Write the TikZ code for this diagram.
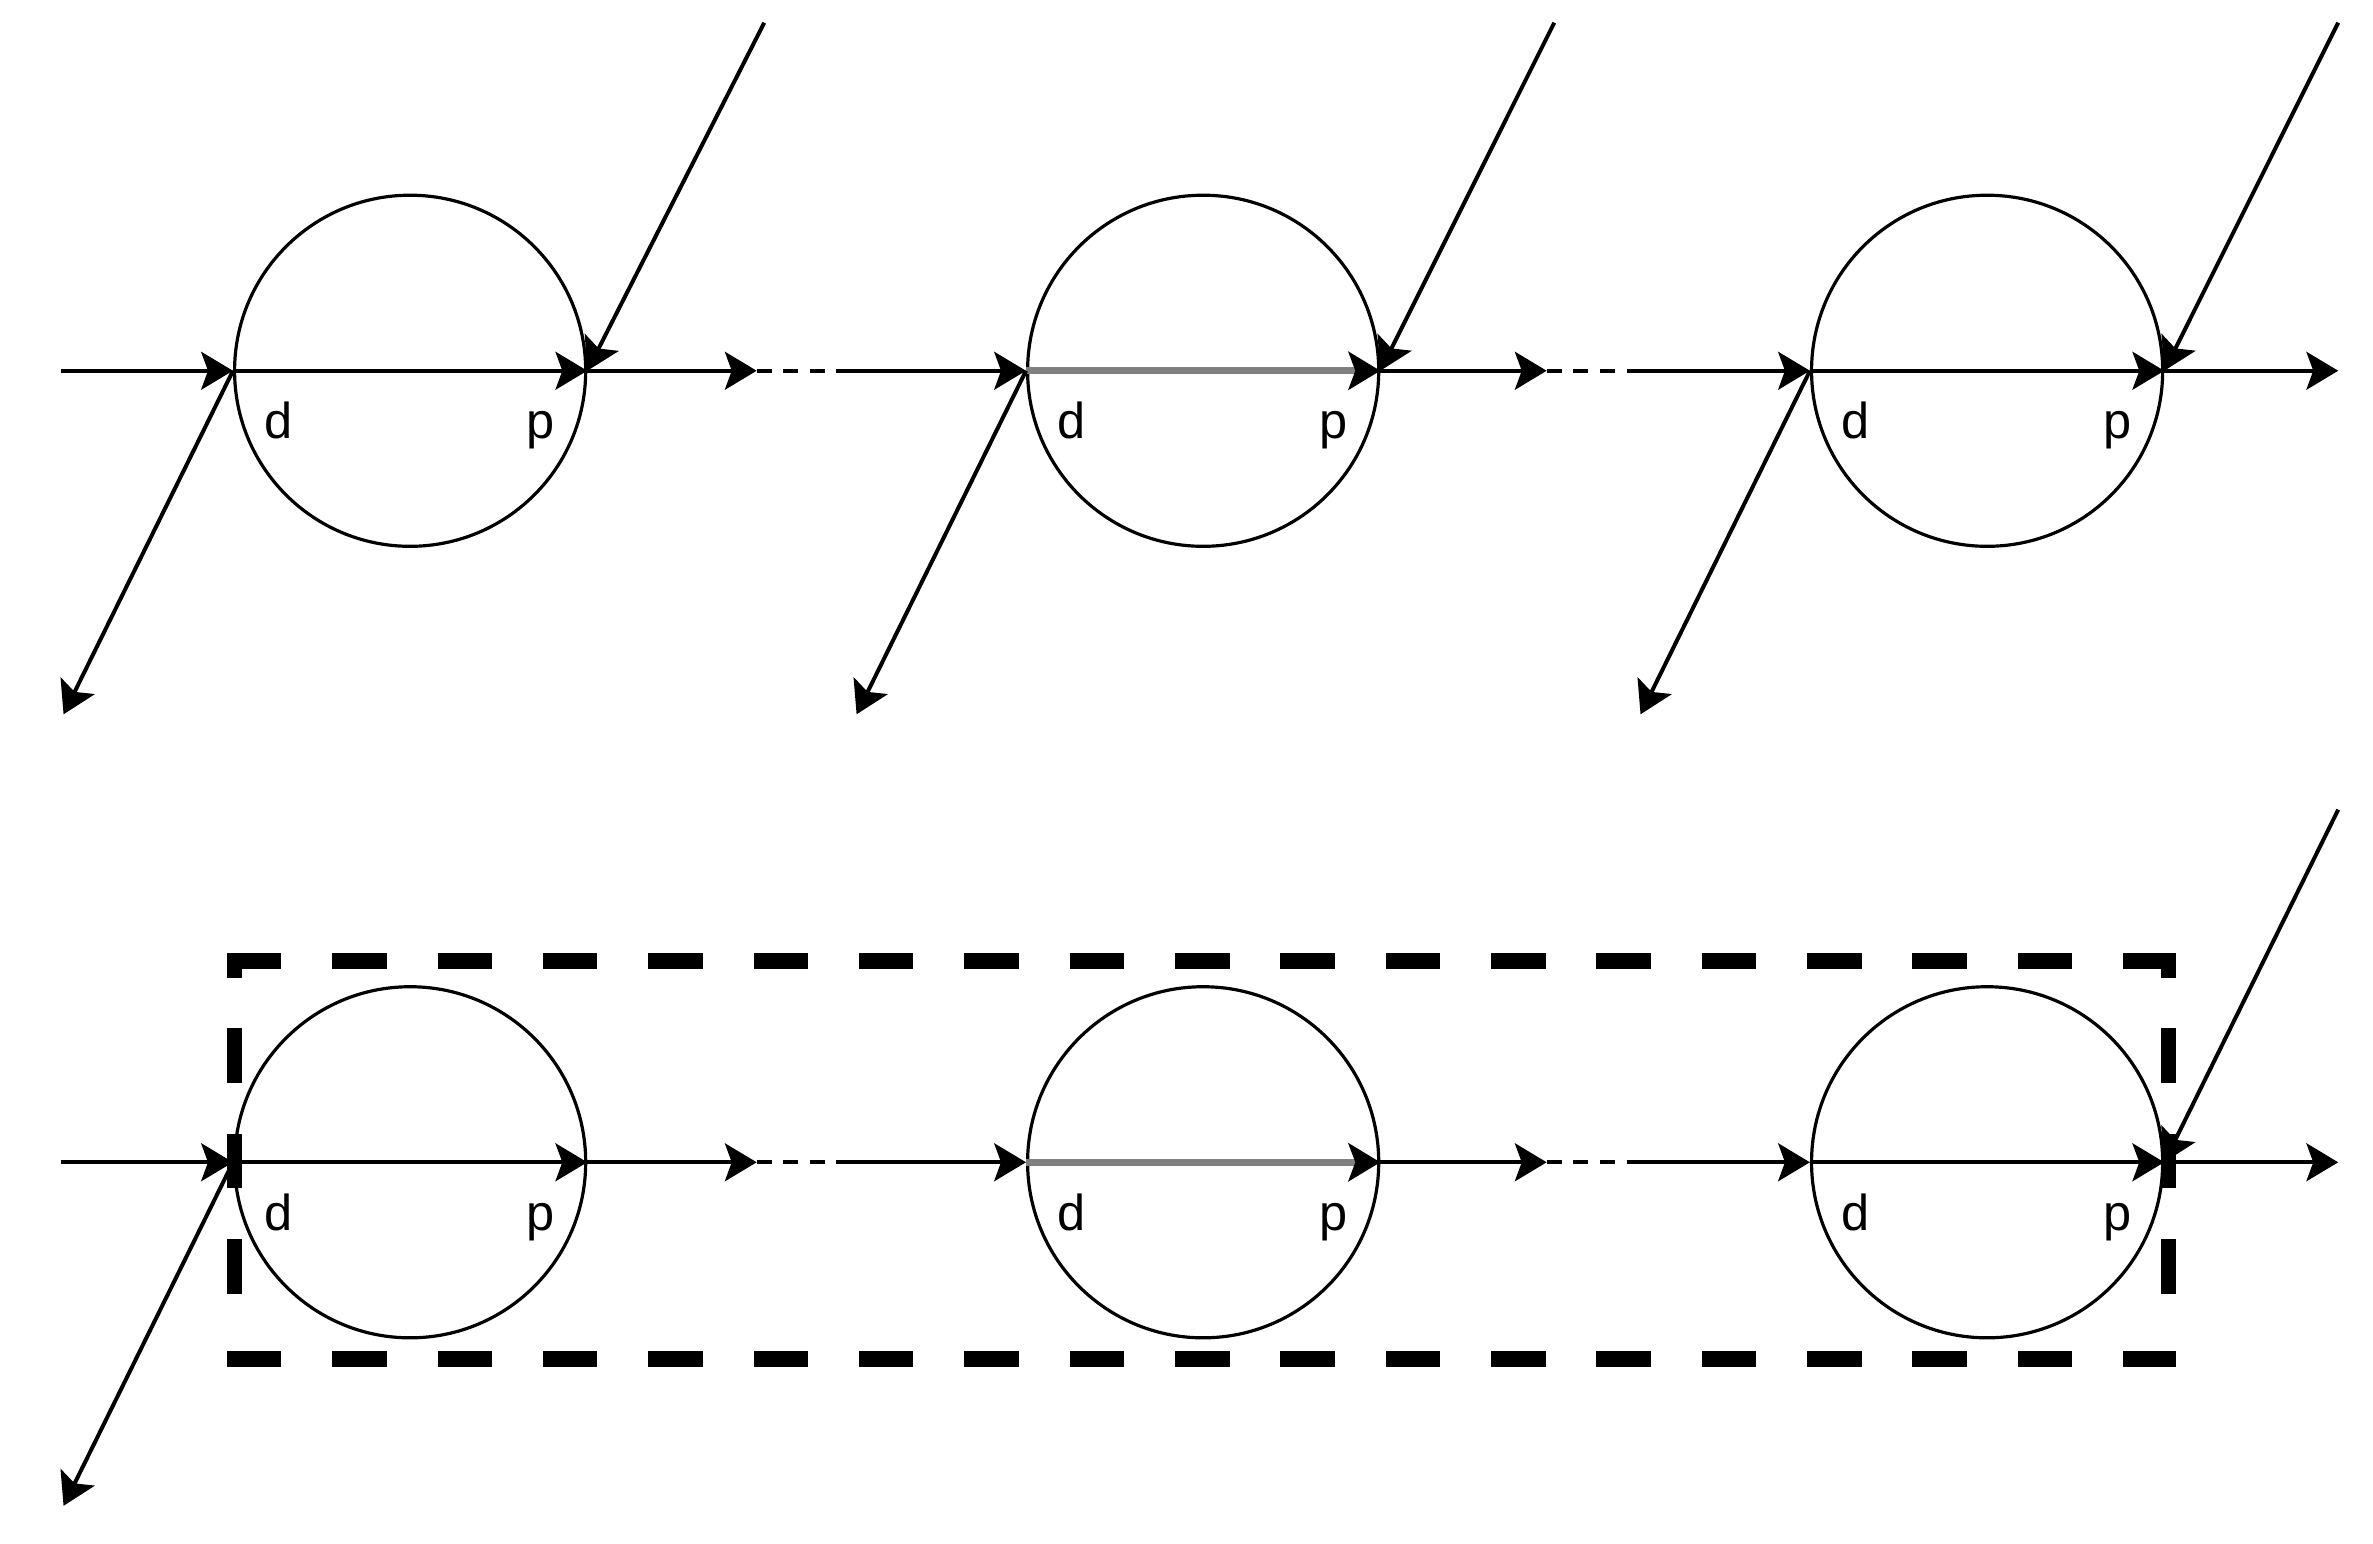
\documentclass[tikz,border=0pt]{standalone}
\usepackage{fontspec}
\setsansfont{Liberation Sans}
\usetikzlibrary{arrows.meta}
\tikzset{
  cell/.style={draw, circle, minimum size=2.32cm, inner sep=0pt, line width=0.6pt},
  link/.style={line width=0.75pt, -{Stealth[length=2.1mm,width=2.5mm,inset=0.45mm,color=black]}},
  hotlink/.style={link, draw=gray, line width=1.4pt},
  gapline/.style={line width=0.75pt, dash pattern=on 2.8pt off 2.2pt},
  lbl/.style={font=\sffamily\fontsize{9.5}{11}\selectfont, inner sep=0pt, anchor=base},
  groupbox/.style={line width=0.1cm, line cap=rect, dash pattern=on 0.26cm off 0.436cm},
  groupside/.style={groupbox, dash phase=0.2cm}
}
\begin{document}
\begin{tikzpicture}
\useasboundingbox (0,0) rectangle (15.68,-10.2);
\node[cell] (c11) at (2.71,-2.45) {};
\node[cell] (c12) at (7.95,-2.45) {};
\node[cell] (c13) at (13.13,-2.45) {};
\node[cell] (c21) at (2.71,-7.68) {};
\node[cell] (c22) at (7.95,-7.68) {};
\node[cell] (c23) at (13.13,-7.68) {};
\node[lbl] (d11) at ([xshift=0.3cm,yshift=-0.45cm]c11.west) {d};
\node[lbl] (p11) at ([xshift=-0.31cm,yshift=-0.45cm]c11.east) {p};
\node[lbl] (d12) at ([xshift=0.3cm,yshift=-0.45cm]c12.west) {d};
\node[lbl] (p12) at ([xshift=-0.31cm,yshift=-0.45cm]c12.east) {p};
\node[lbl] (d13) at ([xshift=0.3cm,yshift=-0.45cm]c13.west) {d};
\node[lbl] (p13) at ([xshift=-0.31cm,yshift=-0.45cm]c13.east) {p};
\node[lbl] (d21) at ([xshift=0.3cm,yshift=-0.45cm]c21.west) {d};
\node[lbl] (p21) at ([xshift=-0.31cm,yshift=-0.45cm]c21.east) {p};
\node[lbl] (d22) at ([xshift=0.3cm,yshift=-0.45cm]c22.west) {d};
\node[lbl] (p22) at ([xshift=-0.31cm,yshift=-0.45cm]c22.east) {p};
\node[lbl] (d23) at ([xshift=0.3cm,yshift=-0.45cm]c23.west) {d};
\node[lbl] (p23) at ([xshift=-0.31cm,yshift=-0.45cm]c23.east) {p};
\coordinate (in1) at (0.40,-2.45);
\coordinate (g1a) at (5.00,-2.45);
\coordinate (g1b) at (5.60,-2.45);
\coordinate (g1c) at (10.22,-2.45);
\coordinate (g1d) at (10.80,-2.45);
\coordinate (out1) at (15.45,-2.45);
\coordinate (in2) at (0.40,-7.68);
\coordinate (g2a) at (5.00,-7.68);
\coordinate (g2b) at (5.60,-7.68);
\coordinate (g2c) at (10.22,-7.68);
\coordinate (g2d) at (10.80,-7.68);
\coordinate (out2) at (15.45,-7.68);
\coordinate (t11) at (5.05,-0.15);
\coordinate (t12) at (10.27,-0.15);
\coordinate (t13) at (15.45,-0.15);
\coordinate (t23) at (15.45,-5.35);
\coordinate (b11) at (0.42,-4.72);
\coordinate (b12) at (5.66,-4.72);
\coordinate (b13) at (10.84,-4.72);
\coordinate (b21) at (0.42,-9.95);
\draw[link] (in1) -- (c11.west);
\draw[link] (c11.west) -- (c11.east);
\draw[link] (c11.east) -- (g1a);
\draw[gapline] (g1a) -- (g1b);
\draw[link] (g1b) -- (c12.west);
\draw[hotlink] (c12.west) -- (c12.east);
\draw[link] (c12.east) -- (g1c);
\draw[gapline] (g1c) -- (g1d);
\draw[link] (g1d) -- (c13.west);
\draw[link] (c13.west) -- (c13.east);
\draw[link] (c13.east) -- (out1);
\draw[link] (t11) -- (c11.east);
\draw[link] (t12) -- (c12.east);
\draw[link] (t13) -- (c13.east);
\draw[link] (c11.west) -- (b11);
\draw[link] (c12.west) -- (b12);
\draw[link] (c13.west) -- (b13);
\draw[link] (in2) -- (c21.west);
\draw[link] (c21.west) -- (c21.east);
\draw[link] (c21.east) -- (g2a);
\draw[gapline] (g2a) -- (g2b);
\draw[link] (g2b) -- (c22.west);
\draw[hotlink] (c22.west) -- (c22.east);
\draw[link] (c22.east) -- (g2c);
\draw[gapline] (g2c) -- (g2d);
\draw[link] (g2d) -- (c23.west);
\draw[link] (c23.west) -- (c23.east);
\draw[link] (c23.east) -- (out2);
\draw[link] (t23) -- (c23.east);
\draw[link] (c21.west) -- (b21);
\draw[groupbox] (1.55,-6.35) -- (14.33,-6.35);
\draw[groupbox] (1.55,-8.98) -- (14.33,-8.98);
\draw[groupside] (1.55,-6.35) -- (1.55,-8.80);
\draw[groupside] (14.33,-6.35) -- (14.33,-8.80);
\end{tikzpicture}
\end{document}
